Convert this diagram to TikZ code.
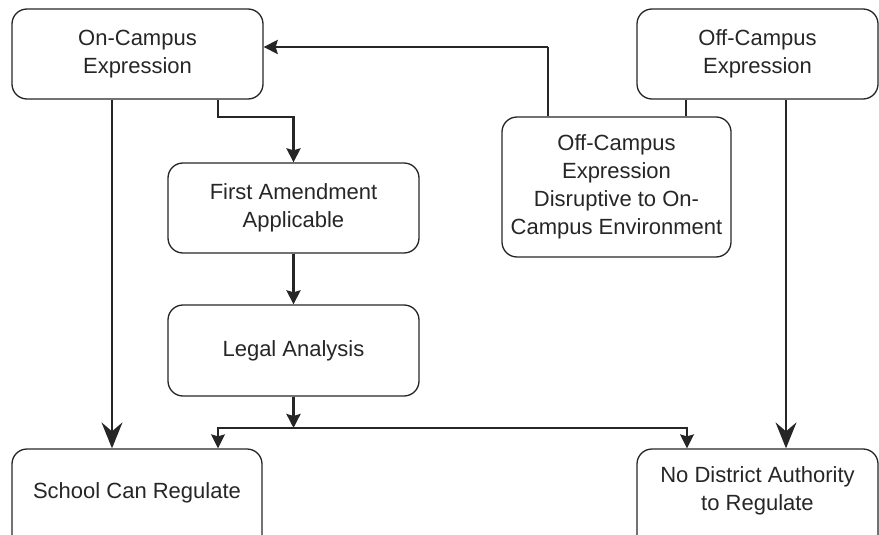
\documentclass[tikz,border=0pt]{standalone}
\usepackage{fontspec}
\setmainfont{Liberation Sans}
\usetikzlibrary{arrows.meta}
\definecolor{ink}{HTML}{262626}
\begin{document}
\begin{tikzpicture}[x=1pt,y=-1pt,
  txt/.style={text=ink, align=center, font=\fontsize{22}{28}\selectfont},
  box/.style={txt, draw=ink, line width=1.3pt, rounded corners=15pt, inner sep=0pt},
  lbl/.style={txt, inner sep=0pt},
  thinline/.style={draw=ink, line width=1.4pt},
  thickline/.style={draw=ink, line width=2.8pt},
  smallhead/.style={-{Stealth[length=14pt,width=14pt,inset=2pt]}},
  bighead/.style={-{Stealth[length=26pt,width=21pt,inset=9pt]}},
]
\useasboundingbox (0,0) rectangle (879,535);
\clip (0,0) rectangle (879,535);

\node[box, minimum width=251pt, minimum height=90pt] (oncampus) at (137.5,54) {On-Campus\\Expression};
\node[box, minimum width=241pt, minimum height=90pt] (offcampus) at (757.5,54) {Off-Campus\\Expression};
\node[box, minimum width=251pt, minimum height=90pt] (first) at (293.5,208) {First Amendment\\Applicable};
\node[box, minimum width=229pt, minimum height=140pt] (disrupt) at (616.5,187) {Off-Campus\\Expression\\Disruptive to On-\\Campus Environment};
\node[box, minimum width=251pt, minimum height=91pt] (legal) at (293.5,350.5) {Legal Analysis};
\node[box, minimum width=250pt, minimum height=110pt] (school) at (137,504) {};
\node[lbl] (schooltext) at (137,493) {School Can Regulate};
\node[box, minimum width=241pt, minimum height=110pt] (nodist) at (757.5,504) {};
\node[lbl] (nodisttext) at (757.5,491) {No District Authority\\to Regulate};

\coordinate (bend) at (262,117);
\coordinate (elbow) at (548,47);
\coordinate (junction) at (293.5,428);

% On-Campus -> School
\draw[thinline, bighead] ([xshift=-25.5pt]oncampus.south) -- ([xshift=-25.5pt]oncampus.south |- school.north);
% On-Campus -> First Amendment
\draw[thinline] ([xshift=80.5pt]oncampus.south) |- (bend);
\draw[thickline, smallhead] (bend) -| (first.north);
% First -> Legal
\draw[thickline, smallhead] (first.south) -- (legal.north);
% Legal -> junction
\draw[thickline, smallhead] (legal.south) -- (junction);
% junction -> School / No District
\draw[thinline, smallhead] (junction) -| ([xshift=81pt]school.north);
\draw[thinline, smallhead] (junction) -| ([xshift=-70.5pt]nodist.north);
% Off-Campus -> Disruptive
\draw[thinline] ([xshift=-71.5pt]offcampus.south) -- ([xshift=-71.5pt]offcampus.south |- disrupt.north);
% Off-Campus -> No District
\draw[thinline, bighead] ([xshift=28.5pt]offcampus.south) -- ([xshift=28.5pt]offcampus.south |- nodist.north);
% Disruptive -> On-Campus
\draw[thinline] ([xshift=-68.5pt]disrupt.north) -- (elbow);
\draw[thickline, smallhead] (elbow) -- (elbow -| oncampus.east);
\end{tikzpicture}
\end{document}
